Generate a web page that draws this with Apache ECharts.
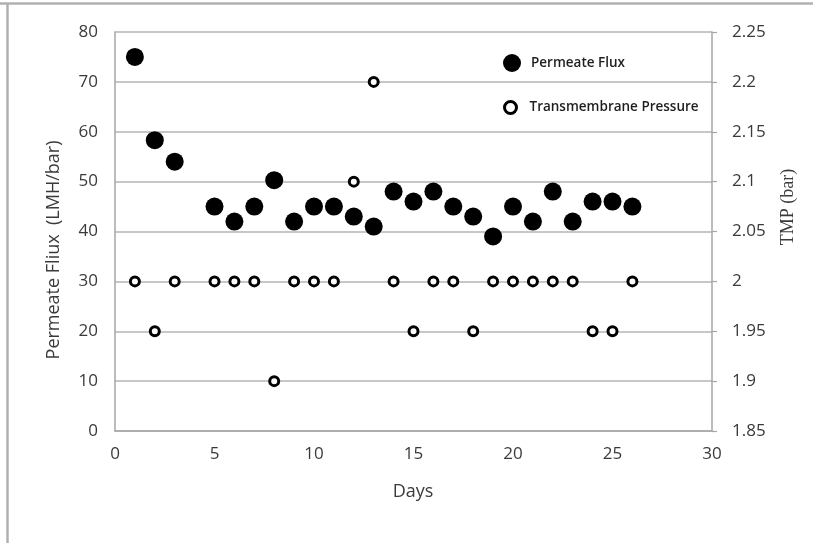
<!DOCTYPE html>
<html>
<head>
<meta charset="utf-8">
<script src="https://cdn.jsdelivr.net/npm/echarts@6/dist/echarts.min.js"></script>
<style>
html,body{margin:0;padding:0;background:#fff;}
#c{width:813px;height:543px;}
</style>
</head>
<body>
<div id="c"></div>
<script>
// ---- data ----
const days = [1, 2, 3, 5, 6, 7, 8, 9, 10, 11, 12, 13, 14, 15, 16, 17, 18, 19, 20, 21, 22, 23, 24, 25, 26];
const permeateFlux = [75, 58.3, 54, 45, 42, 45, 50.3, 42, 45, 45, 43, 41, 48, 46, 48, 45, 43, 39, 45, 42, 48, 42, 46, 46, 45];
const tmp = [2.0, 1.95, 2.0, 2.0, 2.0, 2.0, 1.9, 2.0, 2.0, 2.0, 2.1, 2.2, 2.0, 1.95, 2.0, 2.0, 1.95, 2.0, 2.0, 2.0, 2.0, 2.0, 1.95, 1.95, 2.0];
const seriesNames = ['Permeate Flux', 'Transmembrane Pressure'];
const axisTitles = { x: 'Days', yLeft: 'Permeate Fliux  (LMH/bar)', yRight: 'TMP (bar)' };

const fluxData = days.map((d, i) => [d, permeateFlux[i]]);
const tmpData = days.map((d, i) => [d, tmp[i]]);

const chart = echarts.init(document.getElementById('c'));
const labelColor = '#3a3a3a';
const font = '"Open Sans", "Noto Sans", sans-serif';

chart.setOption({
  backgroundColor: '#ffffff',
  animation: false,
  grid: { left: 115, right: 101, top: 32, bottom: 112, containLabel: false },
  xAxis: {
    type: 'value', min: 0, max: 30, interval: 5,
    axisLine: { show: true, onZero: false, lineStyle: { color: '#a6a6a6', width: 1.5 } },
    axisTick: { show: false },
    splitLine: { show: false },
    axisLabel: { color: labelColor, fontSize: 17, fontFamily: font, margin: 15 }
  },
  yAxis: [
    {
      type: 'value', min: 0, max: 80, interval: 10, position: 'left',
      axisLine: { show: true, lineStyle: { color: '#a6a6a6', width: 1.5 } },
      axisTick: { show: false },
      splitLine: { show: true, lineStyle: { color: '#b5b5b5', width: 1.5 } },
      axisLabel: { color: labelColor, fontSize: 17, fontFamily: font, margin: 17 }
    },
    {
      type: 'value', min: 1.85, max: 2.25, interval: 0.05, position: 'right',
      axisLine: { show: true, lineStyle: { color: '#a6a6a6', width: 1.5 } },
      axisTick: { show: true, inside: false, length: 5, lineStyle: { color: '#a6a6a6', width: 1.2 } },
      splitLine: { show: false },
      axisLabel: {
        color: labelColor, fontSize: 17, fontFamily: font, margin: 20,
        formatter: v => String(parseFloat(v.toFixed(2)))
      }
    }
  ],
  legend: [
    {
      data: [seriesNames[0]], orient: 'horizontal', left: 498, top: 49,
      itemWidth: 18, itemHeight: 18, selectedMode: false,
      itemStyle: { color: '#000', borderWidth: 0 },
      textStyle: { color: '#1e1e1e', fontSize: 13.5, fontWeight: 600, fontFamily: font, padding: [0, 0, 0, 5] }
    },
    {
      data: [seriesNames[1]], orient: 'horizontal', left: 498, top: 95,
      itemWidth: 12, itemHeight: 12, selectedMode: false,
      itemStyle: { color: '#fff', borderColor: '#000', borderWidth: 3 },
      textStyle: { color: '#1e1e1e', fontSize: 13.5, fontWeight: 600, fontFamily: font, padding: [0, 0, 0, 8] }
    }
  ],
  series: [
    {
      name: seriesNames[0], type: 'scatter', yAxisIndex: 0, data: fluxData,
      symbol: 'circle', symbolSize: 18,
      itemStyle: { color: '#000', opacity: 1 }
    },
    {
      name: seriesNames[1], type: 'scatter', yAxisIndex: 1, data: tmpData,
      symbol: 'circle', symbolSize: 9,
      itemStyle: { color: '#fff', borderColor: '#000', borderWidth: 3, opacity: 1 }
    }
  ],
  graphic: [
    { type: 'line', shape: { x1: 0, y1: 3.5, x2: 813, y2: 3.5 }, style: { stroke: '#b0b0b0', lineWidth: 2.5 }, silent: true },
    { type: 'line', shape: { x1: 7.5, y1: 3, x2: 7.5, y2: 543 }, style: { stroke: '#b0b0b0', lineWidth: 2.5 }, silent: true },
    {
      type: 'text', x: 413, y: 492,
      style: { text: axisTitles.x, fill: labelColor, fontSize: 18, fontFamily: font, align: 'center', verticalAlign: 'middle' }
    },
    {
      type: 'text', x: 54, y: 250, rotation: Math.PI / 2,
      style: { text: axisTitles.yLeft, fill: labelColor, fontSize: 18, fontFamily: font, align: 'center', verticalAlign: 'middle' }
    },
    {
      type: 'text', x: 788, y: 207, rotation: Math.PI / 2,
      style: { text: axisTitles.yRight, fill: labelColor, fontSize: 18, fontFamily: '"Liberation Serif", "DejaVu Serif", serif', align: 'center', verticalAlign: 'middle' }
    }
  ]
});
</script>
</body>
</html>
